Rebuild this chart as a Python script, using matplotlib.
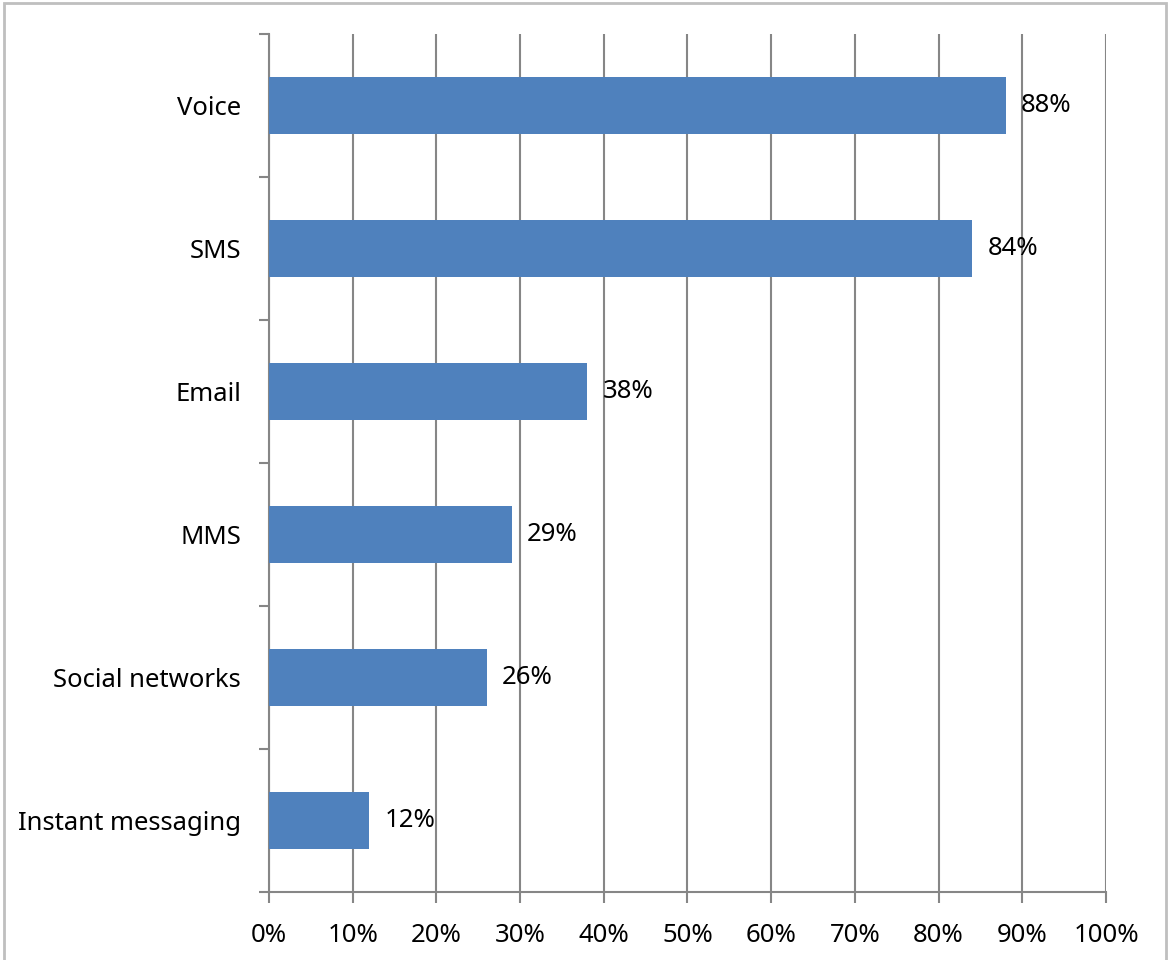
import matplotlib
matplotlib.use("Agg")
import matplotlib.pyplot as plt
from matplotlib.ticker import MultipleLocator, PercentFormatter
from matplotlib.patches import Rectangle

categories = ["Instant messaging", "Social networks", "MMS", "Email", "SMS", "Voice"]
values = [12, 26, 29, 38, 84, 88]

plt.rcParams["font.family"] = ["Noto Sans", "DejaVu Sans"]

AXIS_GRAY = "#868686"
BAR_BLUE = "#4f81bd"
FS = 18.5

fig = plt.figure(figsize=(11.71, 9.6), dpi=100)
ax = fig.add_axes([0.2297, 0.0708, 0.7148, 0.8938])

y = range(len(categories))
ax.barh(y, values, height=0.4, color=BAR_BLUE, zorder=3)
for yi, v in zip(y, values):
    ax.annotate(f"{v}%", (v, yi), xytext=(11, 0), textcoords="offset points",
                ha="left", va="center", fontsize=FS, color="black", zorder=4)

ax.set_xlim(0, 100)
ax.set_ylim(-0.5, len(categories) - 0.5)
ax.xaxis.set_major_locator(MultipleLocator(10))
ax.xaxis.set_major_formatter(PercentFormatter(decimals=0))
ax.grid(axis="x", color=AXIS_GRAY, linewidth=1.5, zorder=0)

# category labels without ticks, boundary ticks as minor ticks
ax.set_yticks(list(y))
ax.set_yticklabels(categories, fontsize=FS)
ax.set_yticks([i - 0.5 for i in range(len(categories) + 1)], minor=True)
ax.tick_params(axis="y", which="major", length=0, pad=20)
ax.tick_params(axis="y", which="minor", length=7, width=1.5, color=AXIS_GRAY, direction="out")
ax.tick_params(axis="x", which="major", length=8, width=1.5, color=AXIS_GRAY,
               direction="out", labelsize=FS, pad=14)

for side in ["top", "right"]:
    ax.spines[side].set_visible(False)
for side in ["left", "bottom"]:
    ax.spines[side].set_color(AXIS_GRAY)
    ax.spines[side].set_linewidth(1.5)

fig.patches.append(Rectangle((0.003, -0.01), 0.993, 1.007, transform=fig.transFigure,
                             fill=False, edgecolor="#bfbfbf", linewidth=2))

fig.savefig("out.png", dpi=100)
